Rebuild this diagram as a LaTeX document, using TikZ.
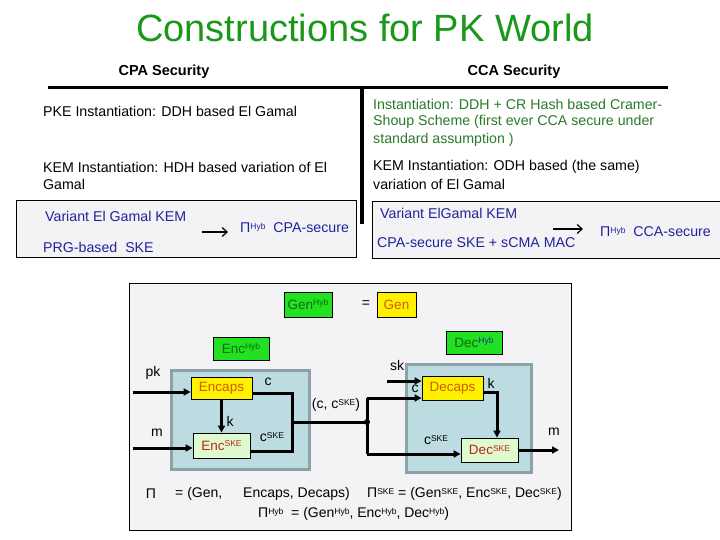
\documentclass[tikz,border=0pt]{standalone}
\usepackage{fontspec}
\setmainfont{Liberation Sans}
\usetikzlibrary{arrows.meta}
\definecolor{ttlgreen}{HTML}{1A981A}
\definecolor{txtgreen}{HTML}{2A7A2A}
\definecolor{txtblue}{HTML}{22229A}
\definecolor{panelgray}{HTML}{F3F3F5}
\definecolor{kemfill}{HTML}{BCDCE2}
\definecolor{kemdraw}{HTML}{8CA2A6}
\definecolor{brightgreen}{HTML}{22E022}
\definecolor{paleGreen}{HTML}{DDFBCF}
\definecolor{orangetxt}{HTML}{D05A00}
\definecolor{redtxt}{HTML}{C02020}
\definecolor{dkgreen}{HTML}{106A10}
\newcommand{\hs}[1]{\raisebox{0.45ex}{\fontsize{8.5}{8.5}\selectfont #1}}
\tikzset{
  body/.style={font=\fontsize{14.2}{16}\selectfont, inner sep=0pt},
  panel/.style={draw=black, line width=1pt, fill=panelgray},
  kem/.style={draw=kemdraw, line width=3pt, fill=kemfill, inner sep=0pt},
  algo/.style={draw=black, line width=0.8pt, inner sep=0pt, font=\fontsize{13.5}{14}\selectfont},
  wire/.style={line width=3pt, line cap=butt},
  arr/.style={wire, -{Triangle[length=7pt,width=7pt]}},
  lbl/.style={font=\fontsize{14}{16}\selectfont, inner sep=0pt},
}
\begin{document}
\begin{tikzpicture}[x=1pt,y=-1pt]
\useasboundingbox (0,0) rectangle (720,540);
\fill[white] (0,0) rectangle (720,540);
% title
\node[ttlgreen, font=\fontsize{38}{40}\selectfont, inner sep=0pt] (title) at (365,28) {Constructions for PK World};
\node[font=\fontsize{14.5}{16}\selectfont\bfseries, inner sep=0pt] (cpa) at (164,72) {CPA Security};
\node[font=\fontsize{14.5}{16}\selectfont\bfseries, inner sep=0pt] (cca) at (514,72) {CCA Security};
\coordinate (hl) at (48,88); \coordinate (hr) at (668,88);
\coordinate (vt) at (362,88); \coordinate (vb) at (362,224);
\draw[line width=3pt] (hl) -- (hr);
\draw[line width=3.5pt] (vt) -- (vb);
% rows
\node[body, anchor=west] (pke) at (43,111) {PKE Instantiation: DDH based El Gamal};
\node[body, anchor=west, txtgreen] (cs1) at (373,104) {Instantiation: DDH + CR Hash based Cramer-};
\node[body, anchor=west, txtgreen] (cs2) at (373,122) {Shoup Scheme (first ever CCA secure under};
\node[body, anchor=west, txtgreen] (cs3) at (373,140) {standard assumption )};
\node[body, anchor=west] (keml1) at (43,167) {KEM Instantiation: HDH based variation of El};
\node[body, anchor=west] (keml2) at (43,184) {Gamal};
\node[body, anchor=west] (kemr1) at (373,167) {KEM Instantiation: ODH based (the same)};
\node[body, anchor=west] (kemr2) at (373,184) {variation of El Gamal};
% row 3 panels
\draw[panel] (16,201) rectangle (356,257);
\draw[panel] (372,202) rectangle (722,258);
\node[body, anchor=west, txtblue] (vl) at (45,216) {Variant El Gamal KEM};
\node[body, anchor=west, txtblue] (prg) at (43,247) {PRG-based\ \ SKE};
\coordinate (al1) at (202,232); \coordinate (al2) at (228,232);
\draw[line width=1.2pt, -{Straight Barb[length=5pt,width=9pt]}] (al1) -- (al2);
\node[body, anchor=west, txtblue] (cpas) at (240,228) {Π\hs{Hyb}\ \ CPA-secure};
\node[body, anchor=west, txtblue] (vr) at (380,213) {Variant ElGamal KEM};
\node[body, anchor=west, txtblue] (mac) at (377,243) {CPA-secure SKE + sCMA MAC};
\coordinate (ar1) at (553,229); \coordinate (ar2) at (583,229);
\draw[line width=1.2pt, -{Straight Barb[length=5pt,width=9pt]}] (ar1) -- (ar2);
\node[body, anchor=west, txtblue] (ccas) at (600,232) {Π\hs{Hyb}\ \ CCA-secure};
% lower diagram
\node[panel, minimum width=442pt, minimum height=247pt, inner sep=0pt] (outer) at (350,406.5) {};
\node[kem, minimum width=138pt, minimum height=99pt] (keml) at (240,419.5) {};
\node[kem, minimum width=125pt, minimum height=108pt] (kemr) at (468.5,418) {};
\node[algo, fill=brightgreen, text=dkgreen, minimum width=48pt, minimum height=25pt] (genhyb) at (308,304.5) {Gen\hs{Hyb}};
\node[lbl] (eq) at (366,304) {=};
\node[algo, fill=yellow, text=orangetxt, minimum width=39pt, minimum height=25pt] (gen) at (396.5,304.5) {Gen};
\node[algo, fill=brightgreen, text=dkgreen, minimum width=56pt, minimum height=23pt] (enchyb) at (241,348.5) {Enc\hs{Hyb}};
\node[algo, fill=brightgreen, text=dkgreen, minimum width=56pt, minimum height=23pt] (dechyb) at (474,342.5) {Dec\hs{\color{txtblue}Hyb}};
\node[algo, fill=yellow, text=orangetxt, minimum width=61pt, minimum height=22pt] (encaps) at (221.5,388) {Encaps};
\node[algo, fill=paleGreen, text=redtxt, minimum width=57pt, minimum height=25pt] (encske) at (221.5,445.5) {Enc\hs{SKE}};
\node[algo, fill=yellow, text=orangetxt, minimum width=61pt, minimum height=24pt] (decaps) at (452.5,388) {Decaps};
\node[algo, fill=paleGreen, text=redtxt, minimum width=57pt, minimum height=24pt] (decske) at (489.5,450) {Dec\hs{SKE}};
% wires
\coordinate (pkin) at (133,392);
\coordinate (min) at (133,448);
\draw[arr] (pkin) -- (encaps.west |- pkin);
\draw[arr] (min) -- (encske.west |- min);
\draw[arr] (encaps.south) -- (encske.north);
\coordinate (cj) at (292,422);
\coordinate (cout) at (252,393);
\coordinate (cskeout) at (250,451);
\draw[wire] (cout) -| (cj);
\draw[wire] (cskeout) -| (cj);
\coordinate (jn) at (367,422);
\draw[wire] (cj) -- (jn);
\fill (jn) circle (3pt);
\coordinate (jt) at (367,398);
\coordinate (jb) at (367,454);
\draw[wire] (jt) -- (jb);
\draw[arr] (jt) -- (decaps.west |- jt);
\draw[arr] (jb) -- (decske.west |- jb);
\coordinate (skin) at (387,381);
\draw[arr] (skin) -- (decaps.west |- skin);
\coordinate (kout) at (483,392);
\coordinate (kcorner) at (497,392);
\draw[arr] (kout) -- (kcorner) -- (kcorner |- decske.north);
\coordinate (mout) at (559,450);
\draw[arr] (decske.east |- mout) -- (mout);
% labels
\node[lbl] (lpk) at (153,373) {pk};
\node[lbl] (lm) at (157,433) {m};
\node[lbl] (lk) at (230,421) {k};
\node[lbl] (lc) at (268,382) {c};
\node[lbl] (lcske) at (272,437) {c\hs{SKE}};
\node[lbl] (lcc) at (336,405) {(c, c\hs{SKE})};
\node[lbl] (lsk) at (397,365) {sk};
\node[lbl] (lc2) at (415,389) {c};
\node[lbl] (lk2) at (491,383) {k};
\node[lbl] (lcske2) at (436,440) {c\hs{SKE}};
\node[lbl] (lm2) at (554,432) {m};
% bottom
\node[lbl] (pi) at (151,494) {Π};
\node[lbl, anchor=west] (pieq) at (175,494) {= (Gen,};
\node[lbl, anchor=west] (pied) at (243,494) {Encaps, Decaps)};
\node[lbl, anchor=west] (piske) at (367,494) {Π\hs{SKE} = (Gen\hs{SKE}, Enc\hs{SKE}, Dec\hs{SKE})};
\node[lbl, anchor=west] (pihyb) at (258,514) {Π\hs{Hyb}\ \ = (Gen\hs{Hyb}, Enc\hs{Hyb}, Dec\hs{Hyb})};
\end{tikzpicture}
\end{document}
